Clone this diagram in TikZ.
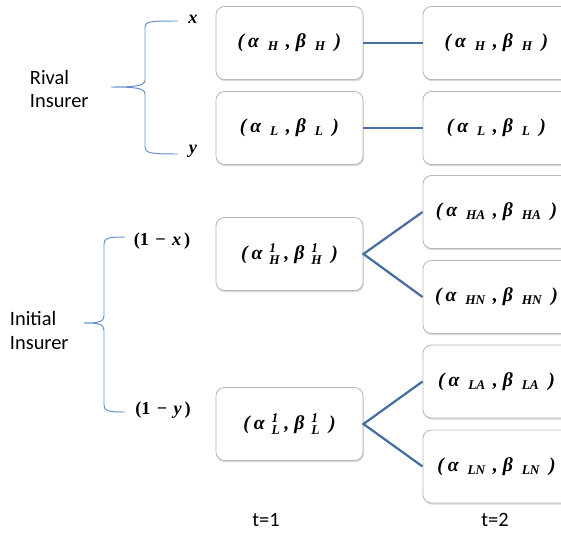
\documentclass[tikz,border=0pt]{standalone}
\usepackage{fontspec}
\newfontfamily\calib{Carlito}
\newfontfamily\boxfont{Liberation Serif}
\usetikzlibrary{shadows}
\definecolor{bracecol}{RGB}{100,145,205}
\definecolor{linkcol}{RGB}{70,110,160}
\definecolor{boxcol}{RGB}{185,185,185}
\tikzset{
	box/.style={draw=boxcol, fill=white, rounded corners=6pt, minimum width=3.675cm, minimum height=1.825cm, line width=0.6pt, drop shadow={shadow xshift=0.6pt, shadow yshift=-1.2pt, opacity=0.3}, font=\boxfont\fontsize{14}{16}\selectfont\bfseries\itshape},
	link/.style={linkcol, line width=1.6pt},
	brace/.style={bracecol, line width=0.7pt},
	lbl/.style={font=\boxfont\fontsize{13}{15}\selectfont\bfseries},
	txt/.style={font=\calib\fontsize{14.5}{17}\selectfont, align=left}
}
% subscript / stacked scripts in the box font
\newcommand{\scr}{\fontsize{9.5}{10}\selectfont}
\newcommand{\sbs}[1]{$_{\hbox{\scr#1}}$}
\newcommand{\sps}[1]{$^{\hbox{\scr1}}_{\hbox{\scr#1}}$}
\newcommand{\ab}[2]{(\hspace{.2em}α\hspace{.45em}\sbs{#1}\hspace{.35em},\hspace{.25em}β\hspace{.45em}\sbs{#2}\hspace{.45em})}
\newcommand{\abone}[1]{(\hspace{.2em}α\hspace{.35em}\sps{#1}\hspace{.2em},\hspace{.25em}β\hspace{.35em}\sps{#1}\hspace{.45em})}
\begin{document}
\begin{tikzpicture}[x=0.025cm, y=-0.025cm]
		\useasboundingbox (0,0) rectangle (561,534);
		% t=1
		\node [box] (rH1) at (289.5,43) {\ab{H}{H}};
		\node [box] (rL1) at (289.5,128) {\ab{L}{L}};
		\node [box] (iH1) at (289.5,254) {\abone{H}};
		\node [box] (iL1) at (289.5,424) {\abone{L}};
		% t=2
		\node [box] (rH2) at (496.5,43) {\ab{H}{H}};
		\node [box] (rL2) at (496.5,128) {\ab{L}{L}};
		\node [box] (iHA) at (496.5,212) {\ab{HA}{HA}};
		\node [box] (iHN) at (496.5,297) {\ab{HN}{HN}};
		\node [box] (iLA) at (496.5,381.5) {\ab{LA}{LA}};
		\node [box] (iLN) at (496.5,466.5) {\ab{LN}{LN}};
		\draw [link] (rH1.east) -- (rH2.west);
		\draw [link] (rL1.east) -- (rL2.west);
		\draw [link] (iHA.west) -- (iH1.east) -- (iHN.west);
		\draw [link] (iLA.west) -- (iL1.east) -- (iLN.west);
		% shares
		\node [lbl] (lx) at (193,19) {\itshape x};
		\node [lbl] (ly) at (193,151) {\itshape y};
		\node [lbl] (l1x) at (162,241) {(1\hspace{.35em}−\hspace{.35em}\textit{x}\hspace{.15em})};
		\node [lbl] (l1y) at (163,410) {(1\hspace{.35em}−\hspace{.35em}\textit{y}\hspace{.15em})};
		\node [txt, anchor=west] (rival) at (25,89) {Rival\\Insurer};
		\node [txt, anchor=west] (initial) at (5,330.5) {Initial\\Insurer};
		\node [txt] (t1) at (266,520) {t=1};
		\node [txt] (t2) at (495,520) {t=2};
		\draw [brace] (178,21) .. controls (150,21) and (145,21) .. (145,28) -- (145,80) .. controls (145,86) and (135,87) .. (111,87) .. controls (135,87) and (145,88) .. (145,94) -- (145,147) .. controls (145,153) and (150,154) .. (178,154);
		\draw [brace] (125,237) .. controls (108,237) and (104,238) .. (104,244) -- (104,316) .. controls (104,322) and (98,323) .. (84,323) .. controls (98,323) and (104,324) .. (104,330) -- (104,405) .. controls (104,411) and (108,412) .. (125,412);
\end{tikzpicture}
\end{document}
